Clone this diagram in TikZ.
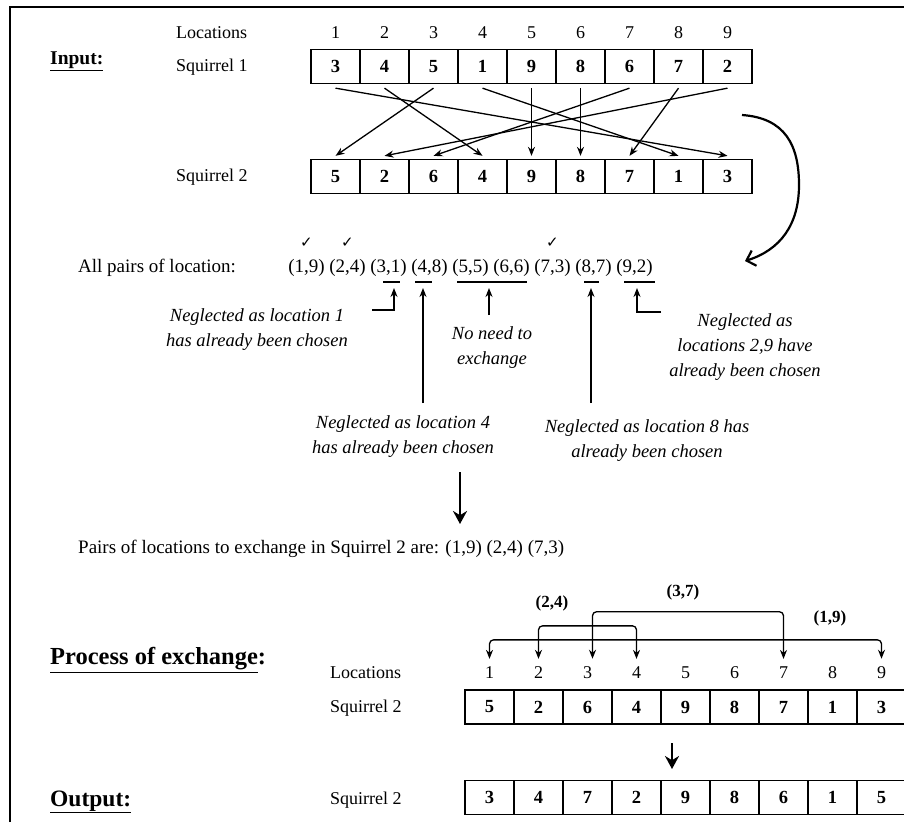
\documentclass[tikz,border=0pt]{standalone}
\usepackage{fontspec}
\setmainfont{Liberation Serif}
\newfontfamily\chkfont{DejaVu Sans}
\usetikzlibrary{arrows.meta}
\tikzset{ cell/.style = { rectangle % box of a row
        , draw
        , line width = 1.3pt
        , minimum width = 49pt
        , minimum height = 34pt
        , inner sep = 0pt
        , font = \fontsize{18.5}{20}\selectfont\bfseries
        }
        , loc/.style = { inner sep = 0pt % location number
        , font = \fontsize{18}{20}\selectfont
        }
        , lab/.style = { anchor = west % row label
        , inner sep = 0pt
        , font = \fontsize{18}{20}\selectfont
        }
        , head/.style = { anchor = west % section title
        , inner sep = 0pt
        , font = \fontsize{19.5}{22}\selectfont\bfseries
        }
        , txt/.style = { anchor = west % plain line
        , inner sep = 0pt
        , font = \fontsize{19}{22}\selectfont
        }
        , note/.style = { align = center % comment
        , inner sep = 0pt
        , font = \fontsize{18.5}{25}\selectfont\itshape
        }
        , chk/.style = { inner sep = 0pt % tick
        , font = \chkfont\fontsize{15}{16}\selectfont
        }
        , swp/.style = { inner sep = 0pt % swap label
        , font = \fontsize{17}{20}\selectfont\bfseries
        }
        , arr/.style = { -{Stealth[length=9pt,width=7pt]}
        , line width = 1.3pt
        }
        , dbl/.style = { {Stealth[length=9pt,width=7pt]}-{Stealth[length=9pt,width=7pt]}
        , line width = 1.3pt
        , rounded corners = 4pt
        }
        , big/.style = { -{Stealth[length=13pt,width=14pt]}
        , line width = 2.6pt
        }
        , bar/.style = { line width = 1.3pt
        }
}
\def\cll(#1,#2,#3,#4)#5{% cell #2 of row #1
    \pgfmathsetmacro{\x}{#3+49*(#2-1)}
    \node[cell] (#1#2) at (\x,#4) {#5};
}
\def\loc(#1,#2,#3,#4){% location number above a row
    \pgfmathsetmacro{\x}{#3+49*(#2-1)}
    \node[loc] (#1#2) at (\x,#4) {#2};
}

\begin{document}
\begin{tikzpicture}[x=1pt, y=-1pt]
    \useasboundingbox (0,0) rectangle (904,822);
    \draw[line width=2pt] (10,822) -- (10,7) -- (904,7);

    % input
    \node[head] (hin) at (50,61) {\underline{Input:}};
    \node[lab] (lt) at (176,33) {Locations};
    \node[lab] (la) at (176,67) {Squirrel 1};
    \node[lab] (lb) at (176,177) {Squirrel 2};
    \foreach \n in {1,...,9} \loc(t,\n,335.5,33);
    \foreach[count=\n] \d in {3,4,5,1,9,8,6,7,2} \cll(a,\n,335.5,66.5){\d};
    \foreach[count=\n] \d in {5,2,6,4,9,8,7,1,3} \cll(b,\n,335.5,176.5){\d};
    \foreach \s/\t in {1/9,2/4,3/1,4/8,5/5,6/6,7/3,8/7,9/2}
        \draw[arr] ([yshift=-4pt]a\s.south) -- ([yshift=3pt]b\t.north);

    \coordinate (cv1) at (742,115);
    \coordinate (cv2) at (745,261);
    \draw[line width=2.2pt, -{Straight Barb[length=8pt,width=16pt]}]
        (cv1) .. controls (785,118) and (799,145) .. (799,185)
              .. controls (799,225) and (780,250) .. (cv2);

    % all pairs
    \node[txt] (lp) at (78,268) {All pairs of location:};
    \foreach[count=\n] \u/\v in {1/9,2/4,3/1,4/8,5/5,6/6,7/3,8/7,9/2}
        \node[loc, font=\fontsize{19}{22}\selectfont] (p\n) at ({306.5+41*(\n-1)},268) {(\u,\v)};
    \foreach \n in {1,2,7} \node[chk] (c\n) at ([yshift=25pt]p\n.center) {✓};
    \foreach \l/\r in {383/400,415/432,457/527,584/599,624/655} \draw[bar] (\l,282) -- (\r,282);

    \node[note] (n3) at (257,329.5) {Neglected as location 1\\has already been chosen};
    \node[note] (n5) at (492,348) {No need to\\exchange};
    \node[note] (n4) at (403,436.5) {Neglected as location 4\\has already been chosen};
    \node[note] (n8) at (647,441) {Neglected as location 8 has\\already been chosen};
    \node[note] (n9) at (745,347) {Neglected as\\locations 2,9 have\\already been chosen};

    \coordinate (u3) at (394,288);
    \coordinate (u4) at (423,288);
    \coordinate (u5) at (489,288);
    \coordinate (u8) at (591,288);
    \coordinate (u9) at (637,288);
    \coordinate (e3) at (372,310);
    \coordinate (s4) at (423,403);
    \coordinate (s5) at (489,315);
    \coordinate (s8) at (591,403);
    \coordinate (e9) at (661,312);
    \draw[arr] (e3) -| (u3);
    \draw[arr] (s4) -- (u4);
    \draw[arr] (s5) -- (u5);
    \draw[arr] (s8) -- (u8);
    \draw[arr] (e9) -| (u9);

    \coordinate (d1) at (460,472);
    \coordinate (d2) at (460,524);
    \draw[big] (d1) -- (d2);
    \node[txt] (res) at (78,549) {Pairs of locations to exchange in Squirrel 2 are: (1,9) (2,4) (7,3)};

    % exchange
    \node[head, font=\fontsize{24.5}{28}\selectfont\bfseries] (hpr) at (50,660) {\underline{Process of exchange}:};
    \node[lab] (lm) at (330,673) {Locations};
    \node[lab] (lr) at (330,708) {Squirrel 2};
    \foreach \n in {1,...,9} \loc(m,\n,489.5,673);
    \foreach[count=\n] \d in {5,2,6,4,9,8,7,1,3} \cll(r,\n,489.5,707){\d};
    \draw[dbl] ([yshift=8pt]m1.north) -- ++(0,-19) -| ([yshift=8pt]m9.north);
    \draw[dbl] ([yshift=8pt]m2.north) -- ++(0,-33) -| ([yshift=8pt]m4.north);
    \draw[dbl] ([xshift=5pt,yshift=8pt]m3.north) -- ++(0,-47) -| ([yshift=8pt]m7.north);
    \node[swp] (k24) at (552,603) {(2,4)};
    \node[swp] (k37) at (683,592) {(3,7)};
    \node[swp] (k19) at (830,618) {(1,9)};

    \coordinate (d3) at (672,743);
    \coordinate (d4) at (672,769);
    \draw[big] (d3) -- (d4);

    % output
    \node[head, font=\fontsize{23.5}{28}\selectfont\bfseries] (hout) at (50,802) {\underline{Output:}};
    \node[lab] (lo) at (330,800) {Squirrel 2};
    \foreach[count=\n] \d in {3,4,7,2,9,8,6,1,5} \cll(o,\n,489.5,797.5){\d};
\end{tikzpicture}
\end{document}
